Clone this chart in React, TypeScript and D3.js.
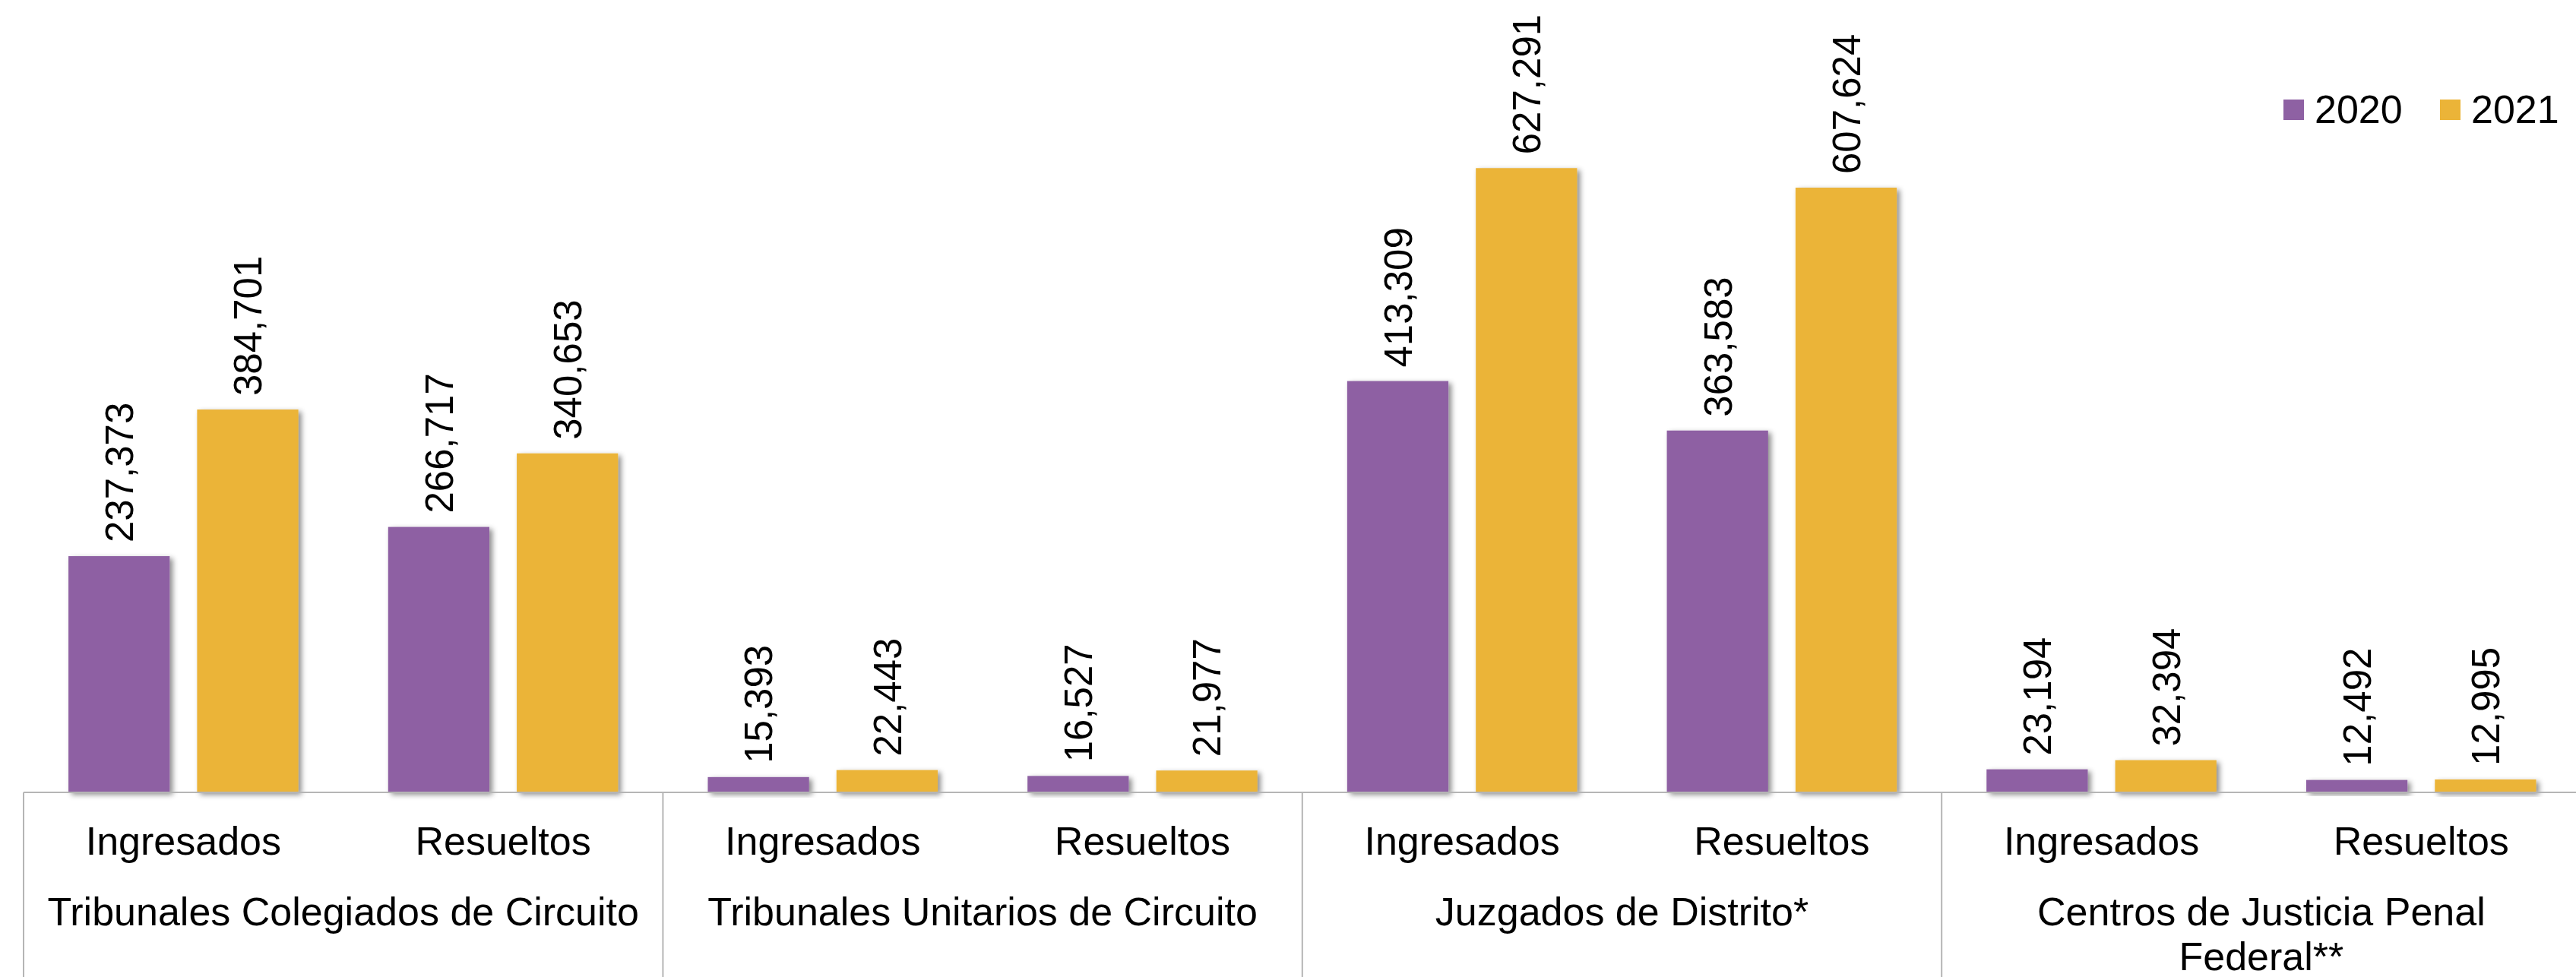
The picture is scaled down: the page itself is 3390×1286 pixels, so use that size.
import { useEffect, useRef } from "react";
import * as d3 from "d3";

// chart data
const groupLabels = [
  ["Tribunales Colegiados de Circuito"],
  ["Tribunales Unitarios de Circuito"],
  ["Juzgados de Distrito*"],
  ["Centros de Justicia Penal", "Federal**"],
];
const subLabels = ["Ingresados", "Resueltos"];
const years = ["2020", "2021"];
const values2020 = [237373, 266717, 15393, 16527, 413309, 363583, 23194, 12492];
const values2021 = [384701, 340653, 22443, 21977, 627291, 607624, 32394, 12995];

const W = 3390;
const H = 1286;
const FONT = "'Liberation Sans', Arial, sans-serif";
const colors = ["#8E61A3", "#EBB438"];

export default function App() {
  const ref = useRef<SVGSVGElement | null>(null);

  useEffect(() => {
    if (!ref.current) return;
    const svg = d3.select(ref.current);
    svg.selectAll("*").remove();

    const left = 31;
    const catW = 420.7;
    const baseY = 1043;

    const cats = d3.range(groupLabels.length * subLabels.length);
    const x = d3
      .scaleBand<number>()
      .domain(cats)
      .range([left, left + catW * cats.length])
      .padding(0);

    const xs = d3
      .scaleBand<string>()
      .domain(years)
      .range([0, x.bandwidth()])
      .paddingInner(0.213)
      .paddingOuter(0.349);

    const y = d3.scaleLinear().domain([0, 700000]).range([baseY, 126]);

    const defs = svg.append("defs");
    const f = defs
      .append("filter")
      .attr("id", "shadow")
      .attr("x", "-20%")
      .attr("y", "-20%")
      .attr("width", "150%")
      .attr("height", "150%");
    f.append("feDropShadow")
      .attr("dx", 4)
      .attr("dy", 3)
      .attr("stdDeviation", 3.5)
      .attr("flood-color", "#000")
      .attr("flood-opacity", 0.45);

    const rows = cats.map((i) => ({
      i,
      vals: [values2020[i], values2021[i]],
    }));

    const fmt = d3.format(",");

    // Bars
    const cat = svg
      .append("g")
      .selectAll("g")
      .data(rows)
      .join("g")
      .attr("transform", (d) => `translate(${x(d.i)},0)`);

    cat
      .selectAll("rect")
      .data((d) => d.vals.map((v, k) => ({ v, k })))
      .join("rect")
      .attr("x", (d) => xs(years[d.k])!)
      .attr("y", (d) => y(d.v))
      .attr("width", xs.bandwidth())
      .attr("height", (d) => baseY - y(d.v))
      .attr("fill", (d) => colors[d.k])
      .attr("filter", "url(#shadow)");

    // Value labels
    cat
      .selectAll("text")
      .data((d) => d.vals.map((v, k) => ({ v, k })))
      .join("text")
      .attr(
        "transform",
        (d) =>
          `translate(${xs(years[d.k])! + xs.bandwidth() / 2},${y(d.v) - 18}) rotate(-90)`
      )
      .attr("dy", "0.36em")
      .attr("font-family", FONT)
      .attr("font-size", 51)
      .attr("fill", "#000")
      .text((d) => fmt(d.v));

    // Axis lines
    const axis = svg.append("g").attr("stroke", "#B5B5B5").attr("stroke-width", 2);
    axis
      .append("line")
      .attr("x1", left)
      .attr("x2", W)
      .attr("y1", baseY)
      .attr("y2", baseY);
    d3.range(groupLabels.length).forEach((g) => {
      const gx = x(g * subLabels.length)!;
      axis
        .append("line")
        .attr("x1", gx)
        .attr("x2", gx)
        .attr("y1", baseY)
        .attr("y2", H);
    });

    // Sub-category labels
    svg
      .append("g")
      .selectAll("text")
      .data(cats)
      .join("text")
      .attr("x", (i) => x(i)! + x.bandwidth() / 2)
      .attr("y", 1125)
      .attr("text-anchor", "middle")
      .attr("font-family", FONT)
      .attr("font-size", 52)
      .text((i) => subLabels[i % subLabels.length]);

    // Group labels
    const gl = svg
      .append("g")
      .selectAll("text")
      .data(groupLabels)
      .join("text")
      .attr("text-anchor", "middle")
      .attr("font-family", FONT)
      .attr("font-size", 52);
    gl.each(function (lines, g) {
      const cx = x(g * subLabels.length)! + x.bandwidth();
      d3.select(this)
        .selectAll("tspan")
        .data(lines)
        .join("tspan")
        .attr("x", cx)
        .attr("y", (_, j) => 1218 + j * 59)
        .text((t) => t);
    });

    // Legend
    const leg = svg.append("g");
    const legX = [3005, 3211];
    years.forEach((yr, k) => {
      leg
        .append("rect")
        .attr("x", legX[k])
        .attr("y", 131)
        .attr("width", 27)
        .attr("height", 27)
        .attr("fill", colors[k]);
      leg
        .append("text")
        .attr("x", legX[k] + 41)
        .attr("y", 162)
        .attr("font-family", FONT)
        .attr("font-size", 52)
        .text(yr);
    });
  }, []);

  return (
    <svg
      ref={ref}
      width={W}
      height={H}
      style={{ position: "absolute", left: 0, top: 0, display: "block", background: "#fff" }}
    />
  );
}
